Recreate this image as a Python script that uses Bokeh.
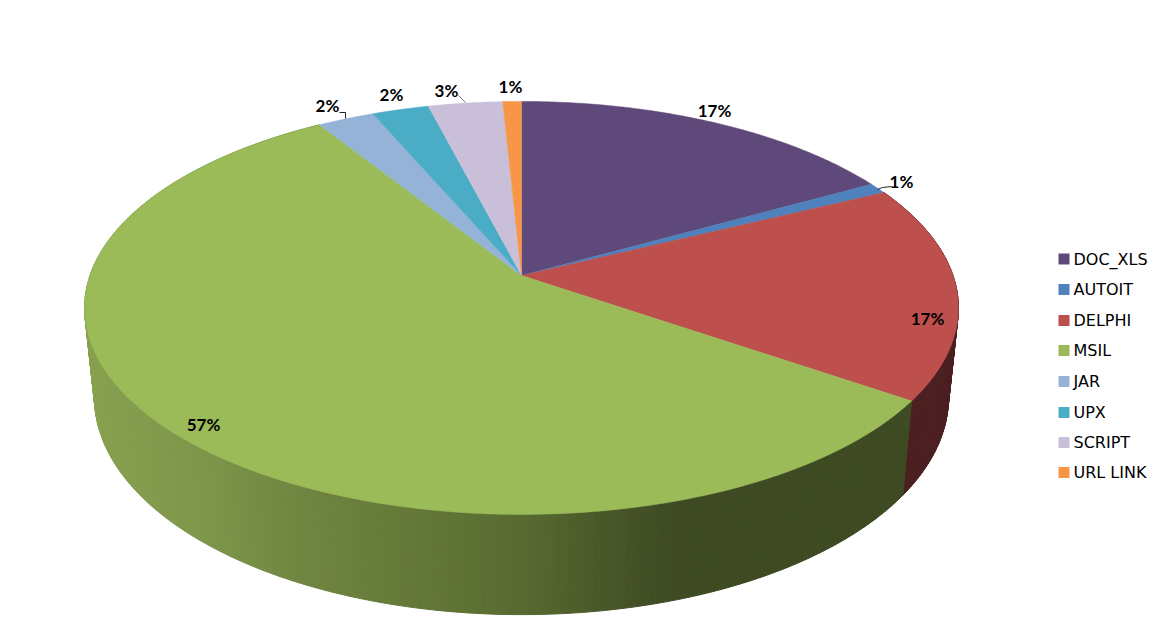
import numpy as np
from bokeh.plotting import figure
from bokeh.models import Range1d
from bokeh.core.properties import value
from bokeh.embed import file_html
from bokeh.resources import INLINE

categories = ["DOC_XLS", "AUTOIT", "DELPHI", "MSIL", "JAR", "UPX", "SCRIPT", "URL LINK"]
shares = [16.9, 0.85, 16.85, 56.5, 2.45, 2.45, 3.2, 0.8]
pct_labels = ["17%", "1%", "17%", "57%", "2%", "2%", "3%", "1%"]
top_colors = ["#5f497a", "#4f81bd", "#bd4f4c", "#9bbb59", "#95b3d7", "#4bacc6", "#c9bfd9", "#f79646"]
label_x = [714, 901, 927, 203, 327, 391, 446, 510]
label_y = [110, 181, 318, 424, 105, 94, 90, 86]
legend_y = [258.5, 289, 320, 350, 381, 412, 442, 472]


def rim(t, cx, y0, a, c, k):
    """Perspective projection of a horizontal circle; t is clockwise from the back."""
    u, v = np.sin(t), np.cos(t)
    d = 1 + k * v
    return cx + a * u / d, y0 - c * v / d


def top_rim(t):
    return rim(t, 521, 275, 431.5, 201.4, 0.157)


def bottom_rim(t):
    return rim(t, 521, 363, 421.7, 211.7, 0.157)


def hexmix(x, stops, cols):
    rgb = [np.interp(x, stops, [int(s[i:i + 2], 16) for s in cols]) for i in (1, 3, 5)]
    return "#%02x%02x%02x" % tuple(int(round(c)) for c in rgb)


p = figure(width=1150, height=635, output_backend="svg", toolbar_location=None,
           x_range=Range1d(0, 1150), y_range=Range1d(635, 0),
           x_axis_type=None, y_axis_type=None, min_border=0, outline_line_color=None)
p.grid.visible = False

edges = np.radians(np.concatenate([[0], np.cumsum(shares)]) * 3.6)

# side wall: DELPHI and MSIL are the only visible ones
wall_stops = [85, 200, 300, 400, 521, 620, 680, 960]
wall_cols = ["#87a04f", "#7e964a", "#6f8540", "#657a39", "#586a31", "#465427", "#3e4a22", "#3e4a22"]
xs, ys, fills = [], [], []
for idx in (2, 3):
    n = int(max(4, np.degrees(edges[idx + 1] - edges[idx]) / 0.75))
    ts = np.linspace(edges[idx], edges[idx + 1], n + 1)
    for a, b in zip(ts[:-1], ts[1:]):
        xa, ya = top_rim(a)
        xb, yb = top_rim(b)
        xc, yc = bottom_rim(b)
        xd, yd = bottom_rim(a)
        xs.append([xa, xb, xc, xd])
        ys.append([ya, yb, yc, yd])
        fills.append("#4b1f20" if idx == 2 else hexmix((xa + xb) / 2, wall_stops, wall_cols))
p.patches(xs, ys, fill_color=fills, line_color=fills, line_width=1)

# top face
for i, cat in enumerate(categories):
    t = np.linspace(edges[i], edges[i + 1], max(3, int(np.degrees(edges[i + 1] - edges[i]) * 2)))
    x, y = top_rim(t)
    p.patch(np.r_[521, x], np.r_[275, y], fill_color=top_colors[i], line_color=top_colors[i], line_width=0.5)

# leader lines
p.line([877, 882, 891], [189, 187, 186], line_color="#222222", line_width=1)
p.line([345, 345, 339], [118, 112, 112], line_color="#222222", line_width=1)
p.line([465, 458], [102, 95], line_color="#777777", line_width=1)

# data labels
p.text(label_x, label_y, text=pct_labels, text_font=value("Lato"), text_font_size="17px",
       text_font_style="bold", text_align="center", text_baseline="middle", text_color="#000000")

# legend
p.rect([1063.5] * 8, legend_y, width=11, height=11, fill_color=top_colors, line_color=None)
p.text([1073] * 8, legend_y, text=categories, text_font=value("DejaVu Sans"), text_font_size="16px",
       text_align="left", text_baseline="middle", text_color="#000000")

open("out.html", "w").write(file_html(p, INLINE))
